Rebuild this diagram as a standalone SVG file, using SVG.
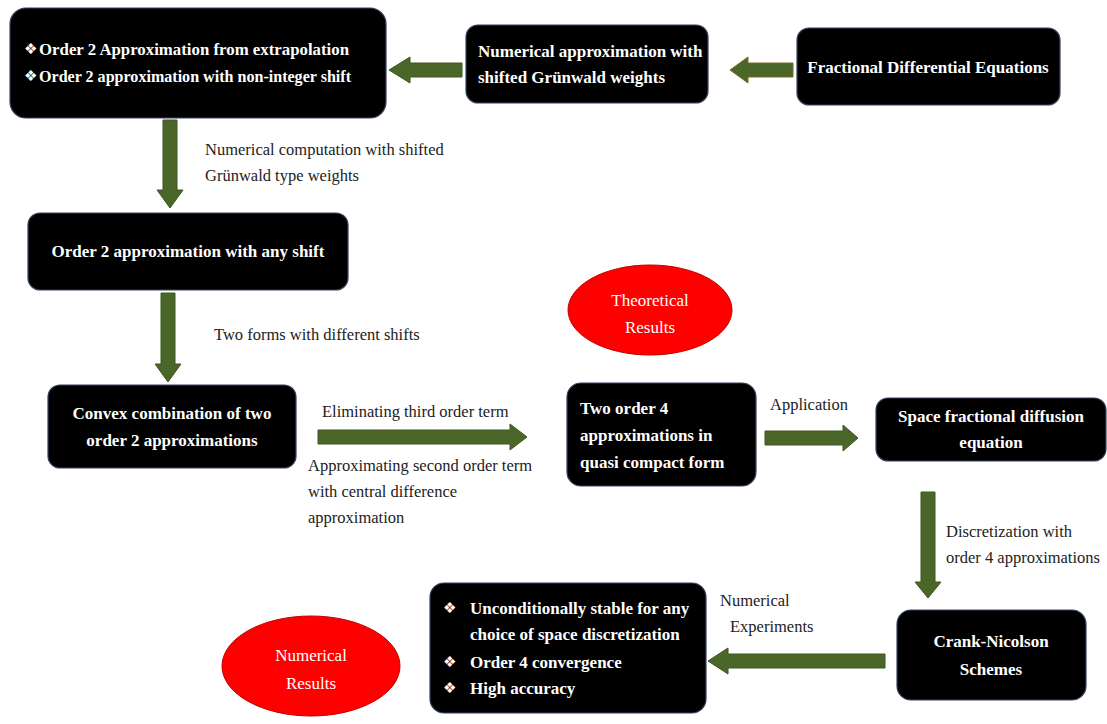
<svg xmlns="http://www.w3.org/2000/svg" width="1107" height="724" viewBox="0 0 1107 724">
<defs>
<style>
.node{fill:#000;stroke:#34445e;stroke-width:1.2}
.nt{font-family:"Liberation Serif","Times New Roman",serif;font-weight:bold;font-size:17px;fill:#fff}
.bul{font-family:"DejaVu Sans",sans-serif;font-size:15px;fill:#fff}
.lbl{font-family:"Liberation Serif","Times New Roman",serif;font-size:16.5px;fill:#222}
.ell{fill:#ff0000;stroke:#c00000;stroke-width:1}
.et{font-family:"Liberation Serif","Times New Roman",serif;font-size:17px;fill:#fff}
.arr{fill:#4a6628;stroke:#3e5622;stroke-width:1}
</style>
</defs>
<rect width="1107" height="724" fill="#fff"/>
<g id="connectors">
<polygon class="arr" points="793,63 748,63 748,57 730,70 748,83 748,77 793,77" style="stroke:#7a6a2a"/>
<polygon class="arr" points="462,63 410,63 410,57 389,70 410,83 410,77 462,77"/>
<polygon class="arr" points="163,120 177,120 177,190 183,190 170,208 157,190 163,190"/>
<polygon class="arr" points="161,293 175,293 175,364 181,364 168,382 155,364 161,364"/>
<polygon class="arr" points="318,430 510,430 510,424 527,437 510,450 510,444 318,444"/>
<polygon class="arr" points="765,431 843,431 843,425 858,438 843,451 843,445 765,445"/>
<polygon class="arr" points="921,492 935,492 935,582 941,582 928,598 915,582 921,582"/>
<polygon class="arr" points="885,654 728,654 728,648 708,661 728,674 728,668 885,668"/>
</g>
<g id="lbl-computation"><text class="lbl" x="205" y="155">Numerical  computation with shifted</text><text class="lbl" x="205" y="181">Grünwald  type weights</text></g>
<g id="lbl-twoforms"><text class="lbl" x="214" y="340">Two forms with  different  shifts</text></g>
<g id="lbl-eliminating"><text class="lbl" x="322" y="417">Eliminating  third order term</text></g>
<g id="lbl-approximating"><text class="lbl" x="308" y="471">Approximating  second order term</text><text class="lbl" x="308" y="497">with  central difference</text><text class="lbl" x="308" y="523">approximation</text></g>
<g id="lbl-application"><text class="lbl" x="770" y="410">Application</text></g>
<g id="lbl-discretization"><text class="lbl" x="946" y="537">Discretization  with</text><text class="lbl" x="946" y="563">order 4 approximations</text></g>
<g id="lbl-experiments"><text class="lbl" x="720" y="606">Numerical</text><text class="lbl" x="730" y="632">Experiments</text></g>
<g id="n-order2-extrap">
<rect class="node" x="10" y="8" width="376" height="110" rx="16"/>
<text class="bul" x="24" y="54">❖</text><text class="nt" x="39" y="55" textLength="310" lengthAdjust="spacingAndGlyphs">Order 2 Approximation  from extrapolation</text>
<text class="bul" x="24" y="81">❖</text><text class="nt" x="39" y="82" textLength="312" lengthAdjust="spacingAndGlyphs">Order 2  approximation with non-integer shift</text>
</g>
<g id="n-numerical-approx">
<rect class="node" x="466" y="25" width="242" height="78" rx="12"/>
<text class="nt" x="478" y="57">Numerical approximation with</text>
<text class="nt" x="478" y="83">shifted Grünwald weights</text>
</g>
<g id="n-fde">
<rect class="node" x="797" y="28" width="263" height="77" rx="12"/>
<text class="nt" x="928" y="73" text-anchor="middle">Fractional Differential Equations</text>
</g>
<g id="n-any-shift">
<rect class="node" x="28" y="213" width="320" height="77" rx="12"/>
<text class="nt" x="188" y="257" text-anchor="middle">Order 2 approximation with any shift</text>
</g>
<g id="n-convex">
<rect class="node" x="48" y="385" width="248" height="83" rx="12"/>
<text class="nt" x="172" y="419" text-anchor="middle">Convex combination of two</text>
<text class="nt" x="172" y="446" text-anchor="middle">order 2 approximations</text>
</g>
<g id="n-theoretical">
<ellipse class="ell" cx="650" cy="310" rx="82" ry="45"/>
<text class="et" x="650" y="306" text-anchor="middle">Theoretical</text>
<text class="et" x="650" y="333" text-anchor="middle">Results</text>
</g>
<g id="n-order4">
<rect class="node" x="567" y="383" width="189" height="103" rx="14"/>
<text class="nt" x="580" y="414">Two order 4</text>
<text class="nt" x="580" y="441">approximations in</text>
<text class="nt" x="580" y="468">quasi compact  form</text>
</g>
<g id="n-space-fde">
<rect class="node" x="876" y="398" width="230" height="63" rx="12"/>
<text class="nt" x="991" y="422" text-anchor="middle">Space fractional diffusion</text>
<text class="nt" x="991" y="448" text-anchor="middle">equation</text>
</g>
<g id="n-crank">
<rect class="node" x="897" y="610" width="189" height="90" rx="14"/>
<text class="nt" x="991" y="647" text-anchor="middle">Crank-Nicolson</text>
<text class="nt" x="991" y="675" text-anchor="middle">Schemes</text>
</g>
<g id="n-results-list">
<rect class="node" x="430" y="583" width="276" height="130" rx="14"/>
<text class="bul" x="443" y="613">❖</text><text class="nt" x="470" y="614">Unconditionally stable for any</text>
<text class="nt" x="470" y="640">choice  of  space discretization</text>
<text class="bul" x="443" y="667">❖</text><text class="nt" x="470" y="668">Order 4 convergence</text>
<text class="bul" x="443" y="693">❖</text><text class="nt" x="470" y="694">High accuracy</text>
</g>
<g id="n-numerical-results">
<ellipse class="ell" cx="311" cy="666" rx="89" ry="50"/>
<text class="et" x="311" y="661" text-anchor="middle">Numerical</text>
<text class="et" x="311" y="689" text-anchor="middle">Results</text>
</g>
</svg>
